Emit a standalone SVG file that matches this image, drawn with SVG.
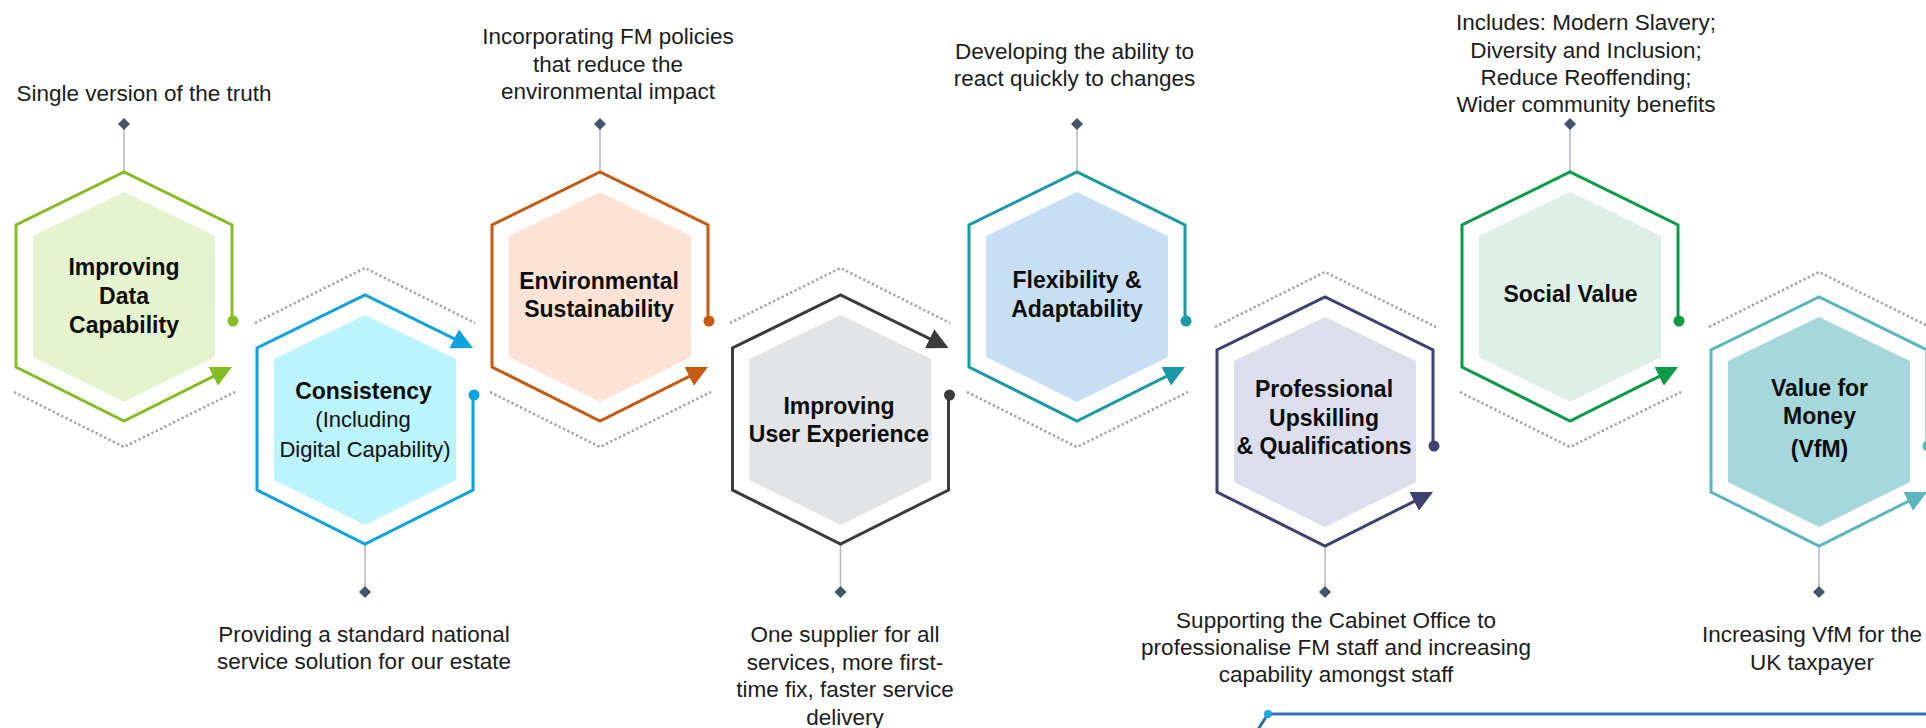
<svg xmlns="http://www.w3.org/2000/svg" width="1926" height="728" viewBox="0 0 1926 728">
<defs>
<style>
.t{font-family:"Liberation Sans",Arial,sans-serif;font-size:22.5px;fill:#1c1c1c;text-anchor:middle}
.b{font-family:"Liberation Sans",Arial,sans-serif;font-size:23px;font-weight:bold;fill:#0d0d0d;text-anchor:middle}
.n{font-family:"Liberation Sans",Arial,sans-serif;font-size:22px;fill:#111;text-anchor:middle}
.o{fill:none;stroke-width:3;stroke-linejoin:miter}
.dot{fill:none;stroke:#a6a6a6;stroke-width:2.6;stroke-dasharray:2.4 2.4}
.stem{stroke:#b6bdc6;stroke-width:1.6;fill:none}
.dia{fill:#44546a}
</style>
<marker id="a1" markerUnits="userSpaceOnUse" viewBox="0 0 21 21" markerWidth="21" markerHeight="21" refX="18" refY="10.5" orient="auto"><path d="M0,0 L21,10.5 L0,21 Z" fill="#86bc25"/></marker>
<marker id="a2" markerUnits="userSpaceOnUse" viewBox="0 0 21 21" markerWidth="21" markerHeight="21" refX="18" refY="10.5" orient="auto"><path d="M0,0 L21,10.5 L0,21 Z" fill="#0ea2df"/></marker>
<marker id="a3" markerUnits="userSpaceOnUse" viewBox="0 0 21 21" markerWidth="21" markerHeight="21" refX="18" refY="10.5" orient="auto"><path d="M0,0 L21,10.5 L0,21 Z" fill="#c55a11"/></marker>
<marker id="a4" markerUnits="userSpaceOnUse" viewBox="0 0 21 21" markerWidth="21" markerHeight="21" refX="18" refY="10.5" orient="auto"><path d="M0,0 L21,10.5 L0,21 Z" fill="#3b3b3d"/></marker>
<marker id="a5" markerUnits="userSpaceOnUse" viewBox="0 0 21 21" markerWidth="21" markerHeight="21" refX="18" refY="10.5" orient="auto"><path d="M0,0 L21,10.5 L0,21 Z" fill="#1a9aa6"/></marker>
<marker id="a6" markerUnits="userSpaceOnUse" viewBox="0 0 21 21" markerWidth="21" markerHeight="21" refX="18" refY="10.5" orient="auto"><path d="M0,0 L21,10.5 L0,21 Z" fill="#3e4170"/></marker>
<marker id="a7" markerUnits="userSpaceOnUse" viewBox="0 0 21 21" markerWidth="21" markerHeight="21" refX="18" refY="10.5" orient="auto"><path d="M0,0 L21,10.5 L0,21 Z" fill="#0a9b46"/></marker>
<marker id="a8" markerUnits="userSpaceOnUse" viewBox="0 0 21 21" markerWidth="21" markerHeight="21" refX="18" refY="10.5" orient="auto"><path d="M0,0 L21,10.5 L0,21 Z" fill="#5ab6c1"/></marker>
</defs>
<rect width="1926" height="728" fill="#ffffff"/>

<g id="dotted-guides">
<path class="dot" d="M14,392 L124,447 L235,392"/>
<path class="dot" d="M255,323 L365,268 L475,323"/>
<path class="dot" d="M490,392 L600,447 L711,392"/>
<path class="dot" d="M730,323 L840.5,268 L950,323"/>
<path class="dot" d="M967,392 L1077,447 L1188,392"/>
<path class="dot" d="M1215,327 L1325,272 L1436,327"/>
<path class="dot" d="M1460,392 L1570,447 L1681,392"/>
<path class="dot" d="M1709,327 L1819,272 L1930,327"/>
</g>

<g id="connectors">
<path class="stem" d="M124,124 V172"/><path class="dia" d="M124,118 L130,124 L124,130 L118,124 Z"/>
<path class="stem" d="M365,544 V592"/><path class="dia" d="M365,586 L371,592 L365,598 L359,592 Z"/>
<path class="stem" d="M600,124 V172"/><path class="dia" d="M600,118 L606,124 L600,130 L594,124 Z"/>
<path class="stem" d="M840.5,544 V592"/><path class="dia" d="M840.5,586 L846.5,592 L840.5,598 L834.5,592 Z"/>
<path class="stem" d="M1077,124 V172"/><path class="dia" d="M1077,118 L1083,124 L1077,130 L1071,124 Z"/>
<path class="stem" d="M1325,546 V592"/><path class="dia" d="M1325,586 L1331,592 L1325,598 L1319,592 Z"/>
<path class="stem" d="M1570,124 V172"/><path class="dia" d="M1570,118 L1576,124 L1570,130 L1564,124 Z"/>
<path class="stem" d="M1819,546 V592"/><path class="dia" d="M1819,586 L1825,592 L1819,598 L1813,592 Z"/>
</g>

<g id="node-data" transform="translate(124,0)">
<path d="M0,192 L91,236 L91,357 L0,402 L-91,357 L-91,236 Z" fill="#e5f4cf"/>
<path class="o" stroke="#86bc25" d="M108,321 L108,225 L0,172 L-108,225 L-108,367 L0,421 L105.3,368.3" marker-end="url(#a1)"/>
<circle cx="109" cy="321" r="5.5" fill="#86bc25"/>
<text class="b" x="0" y="275">Improving</text>
<text class="b" x="0" y="303.5">Data</text>
<text class="b" x="0" y="332.5">Capability</text>
<text class="t" x="20" y="101">Single version of the truth</text>
</g>

<g id="node-consistency" transform="translate(365,0)">
<path d="M0,315 L91,359 L91,480 L0,525 L-91,480 L-91,359 Z" fill="#bbf4fb"/>
<path class="o" stroke="#0ea2df" d="M108,395 L108,490 L0,544 L-108,490 L-108,348 L0,295 L105.3,346.7" marker-end="url(#a2)"/>
<circle cx="109" cy="395" r="5.5" fill="#0ea2df"/>
<text class="b" x="-1.5" y="398.5">Consistency</text>
<text class="n" x="-2" y="426.5">(Including</text>
<text class="n" x="0" y="456.5">Digital Capability)</text>
<text class="t" x="-1" y="641.5">Providing a standard national</text>
<text class="t" x="-1" y="669">service solution for our estate</text>
</g>

<g id="node-environment" transform="translate(600,0)">
<path d="M0,192 L91,236 L91,357 L0,402 L-91,357 L-91,236 Z" fill="#fce3d5"/>
<path class="o" stroke="#c55a11" d="M108,321 L108,225 L0,172 L-108,225 L-108,367 L0,421 L105.3,368.3" marker-end="url(#a3)"/>
<circle cx="109" cy="321" r="5.5" fill="#c55a11"/>
<text class="b" x="-1" y="288.5">Environmental</text>
<text class="b" x="-1" y="316.5">Sustainability</text>
<text class="t" x="8" y="43.5">Incorporating FM policies</text>
<text class="t" x="8" y="71.5">that reduce the</text>
<text class="t" x="8" y="98.5">environmental impact</text>
</g>

<g id="node-user" transform="translate(840.5,0)">
<path d="M0,315 L91,359 L91,480 L0,525 L-91,480 L-91,359 Z" fill="#e3e4e6"/>
<path class="o" stroke="#3b3b3d" d="M108,395 L108,490 L0,544 L-108,490 L-108,348 L0,295 L105.3,346.7" marker-end="url(#a4)"/>
<circle cx="109" cy="395" r="5.5" fill="#3b3b3d"/>
<text class="b" x="-1.5" y="413.5">Improving</text>
<text class="b" x="-1.5" y="441.5">User Experience</text>
<text class="t" x="4.5" y="641.5">One supplier for all</text>
<text class="t" x="4.5" y="669.5">services, more first-</text>
<text class="t" x="4.5" y="697">time fix, faster service</text>
<text class="t" x="4.5" y="725">delivery</text>
</g>

<g id="node-flexibility" transform="translate(1077,0)">
<path d="M0,192 L91,236 L91,357 L0,402 L-91,357 L-91,236 Z" fill="#c8dff3"/>
<path class="o" stroke="#1a9aa6" d="M108,321 L108,225 L0,172 L-108,225 L-108,367 L0,421 L105.3,368.3" marker-end="url(#a5)"/>
<circle cx="109" cy="321" r="5.5" fill="#1a9aa6"/>
<text class="b" x="0" y="287.5">Flexibility &amp;</text>
<text class="b" x="0" y="316.5">Adaptability</text>
<text class="t" x="-2.5" y="58.5">Developing the ability to</text>
<text class="t" x="-2.5" y="86">react quickly to changes</text>
</g>

<g id="node-professional" transform="translate(1325,0)">
<path d="M0,317 L91,361 L91,482 L0,527 L-91,482 L-91,361 Z" fill="#dcdeec"/>
<path class="o" stroke="#3e4170" d="M108,446 L108,350 L0,297 L-108,350 L-108,492 L0,546 L105.3,493.3" marker-end="url(#a6)"/>
<circle cx="109" cy="446" r="5.5" fill="#3e4170"/>
<text class="b" x="-1" y="396.5">Professional</text>
<text class="b" x="-1" y="425.5">Upskilling</text>
<text class="b" x="-1" y="454">&amp; Qualifications</text>
<text class="t" x="11" y="627.5">Supporting the Cabinet Office to</text>
<text class="t" x="11" y="655">professionalise FM staff and increasing</text>
<text class="t" x="11" y="682">capability amongst staff</text>
</g>

<g id="node-social" transform="translate(1570,0)">
<path d="M0,192 L91,236 L91,357 L0,402 L-91,357 L-91,236 Z" fill="#deefe7"/>
<path class="o" stroke="#0a9b46" d="M108,321 L108,225 L0,172 L-108,225 L-108,367 L0,421 L105.3,368.3" marker-end="url(#a7)"/>
<circle cx="109" cy="321" r="5.5" fill="#0a9b46"/>
<text class="b" x="0.5" y="301.5">Social Value</text>
<text class="t" x="16" y="30">Includes: Modern Slavery;</text>
<text class="t" x="16" y="57.5">Diversity and Inclusion;</text>
<text class="t" x="16" y="84.5">Reduce Reoffending;</text>
<text class="t" x="16" y="111.5">Wider community benefits</text>
</g>

<g id="node-vfm" transform="translate(1819,0)">
<path d="M0,317 L91,361 L91,482 L0,527 L-91,482 L-91,361 Z" fill="#a6d7db"/>
<path class="o" stroke="#5ab6c1" d="M108,446 L108,350 L0,297 L-108,350 L-108,492 L0,546 L105.3,493.3" marker-end="url(#a8)"/>
<circle cx="109" cy="446" r="5.5" fill="#5ab6c1"/>
<text class="b" x="0.5" y="395.5">Value for</text>
<text class="b" x="0.5" y="424">Money</text>
<text class="b" x="0.5" y="456.5">(VfM)</text>
<text class="t" x="-7" y="641.5">Increasing VfM for the</text>
<text class="t" x="-7" y="669.5">UK taxpayer</text>
</g>

<g id="bottom-rule">
<path d="M1268,714 H1926" stroke="#2e6fb5" stroke-width="3" fill="none"/>
<path d="M1268,714 L1257,731" stroke="#2e6fb5" stroke-width="3" fill="none"/>
<circle cx="1268" cy="714" r="4" fill="#22a7e0"/>
</g>
</svg>
